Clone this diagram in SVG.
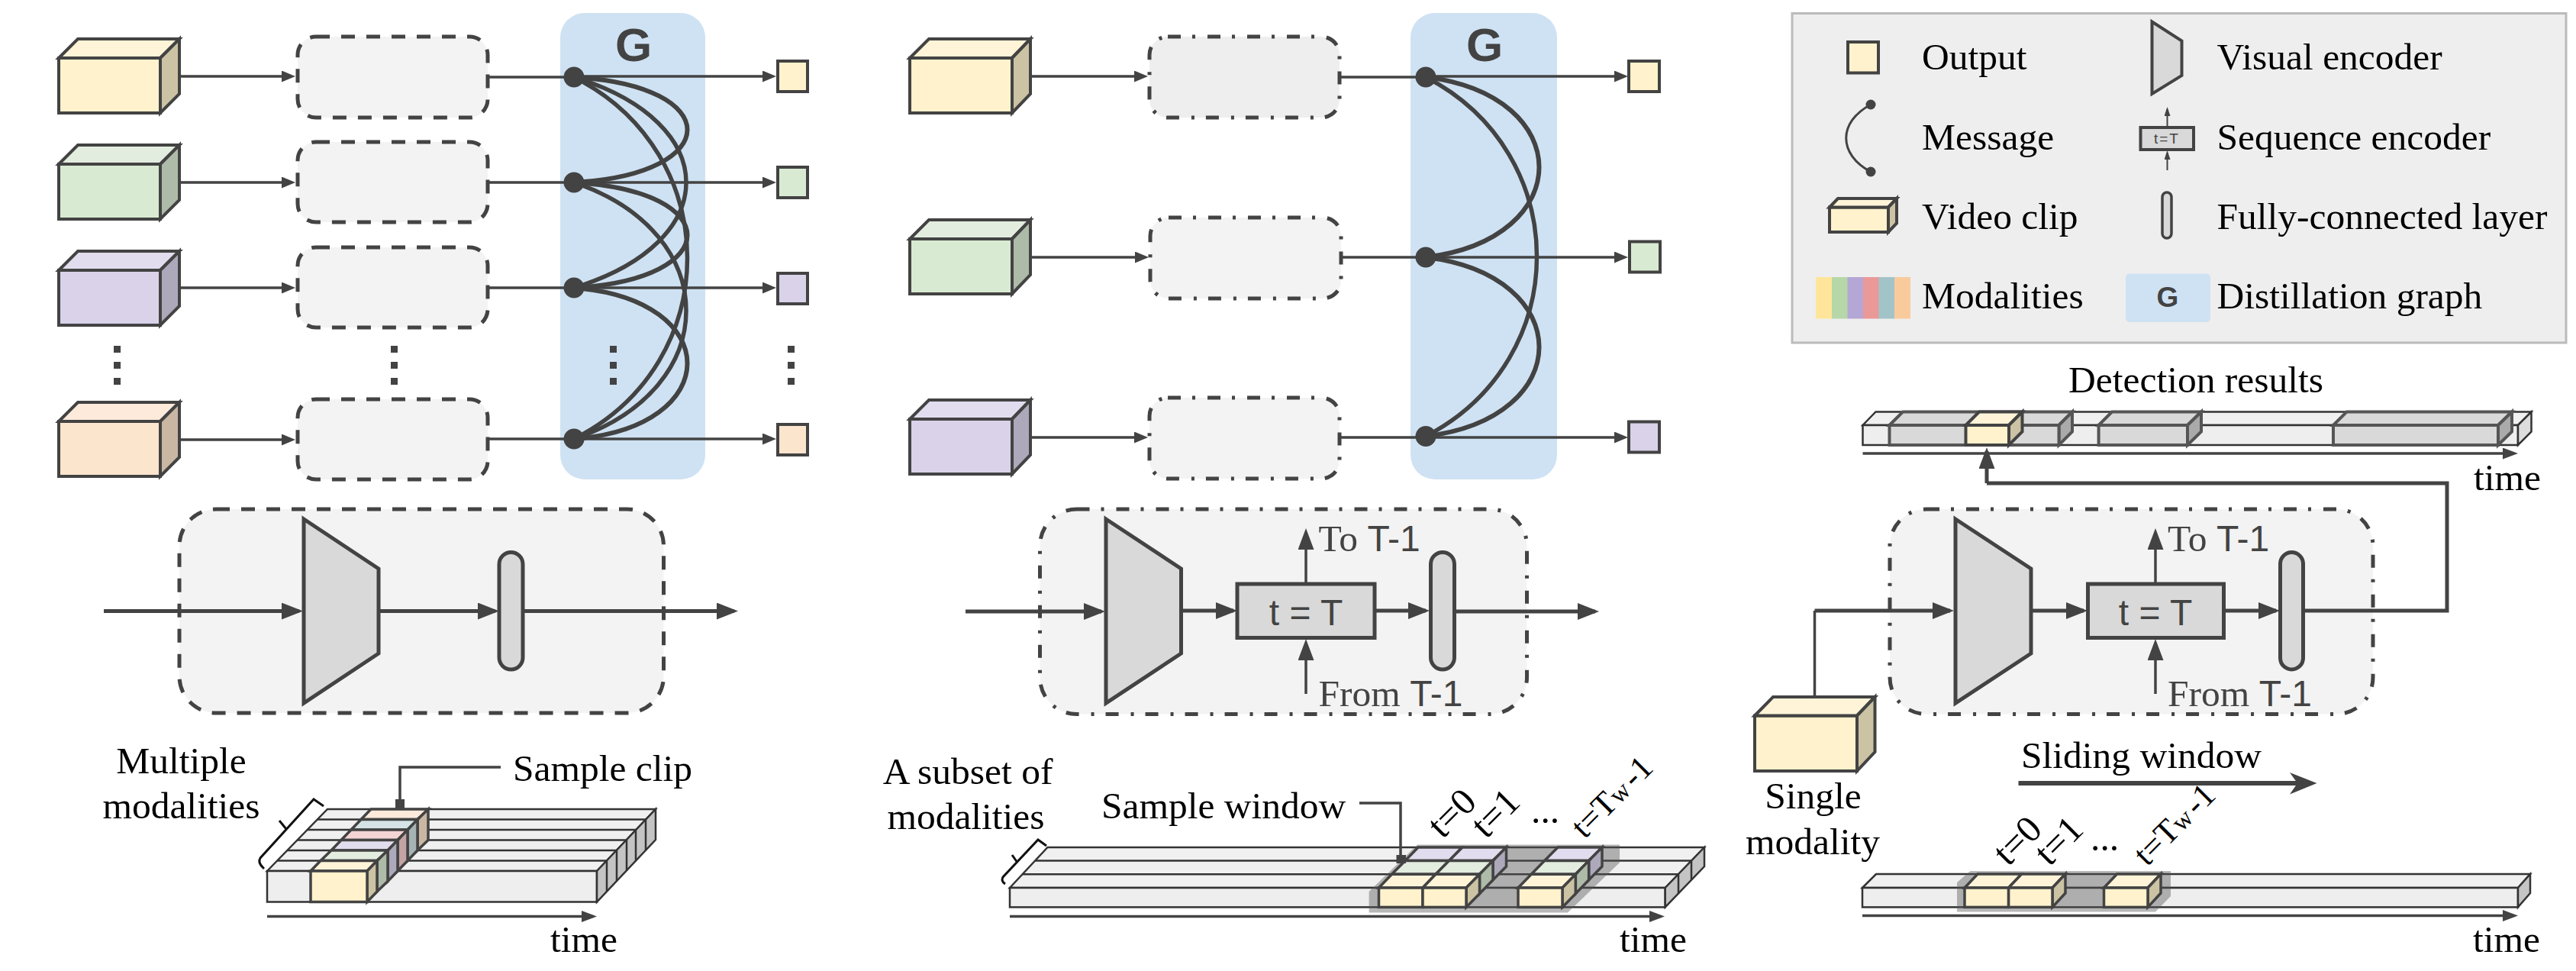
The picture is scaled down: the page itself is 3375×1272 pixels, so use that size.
<svg xmlns="http://www.w3.org/2000/svg" width="3375" height="1272" viewBox="0 0 3375 1272">
<style>
.lbl{font-family:"Liberation Serif","Times New Roman",serif;font-size:49.5px;fill:#000}
.in{font-family:"Liberation Serif","Times New Roman",serif;font-size:49.5px;fill:#434343}
.sa{font-family:"Liberation Sans",Arial,sans-serif}
.g{font-family:"Liberation Sans",Arial,sans-serif;font-weight:bold;fill:#434343}
.s{stroke:#434343;stroke-width:4;stroke-linejoin:miter}
.t{stroke:#333;stroke-width:2.5}
.dash{fill:#f3f3f3;stroke:#434343;stroke-width:5;stroke-dasharray:18 15}
.dd{fill:#f3f3f3;stroke:#434343;stroke-width:5;stroke-dasharray:17 15 4 16}
.c{fill:none;stroke:#434343;stroke-width:3.5}
.c5{fill:none;stroke:#434343;stroke-width:5}
.e{fill:none;stroke:#434343;stroke-width:6}
.e4{fill:none;stroke:#434343;stroke-width:5.5}
.node{fill:#434343}
.gb{fill:#cfe2f3}
.enc{fill:#d9d9d9;stroke:#434343;stroke-width:5}
.yf{fill:#fff2cc}.yt{fill:#fff4d8}.ys{fill:#cbc3a3}
.gf{fill:#d9ead3}.gt{fill:#e3eddf}.gs{fill:#adbba8}
.pf{fill:#d9d2e9}.pt{fill:#e2ddee}.ps{fill:#ada8ba}
.of{fill:#fce5cd}.ot{fill:#fdeadb}.os{fill:#c9b7a3}
.bt{fill:#d6e3e6}.bs{fill:#a6b3b5}
.rt{fill:#f4d4d4}.rs{fill:#c3a3a3}
.st{fill:#f0f0f0}.sf{fill:#eeeeee}.ss{fill:#c4c4c4}
.gc{fill:#d9d9d9;stroke:#555;stroke-width:4}
.gs2{fill:#aaaaaa;stroke:#555;stroke-width:4}
.win{fill:#555;opacity:.42}
.w{font-size:44px}
</style>
<defs>
<marker id="as" markerUnits="userSpaceOnUse" markerWidth="18" markerHeight="15" refX="13" refY="7.5" orient="auto"><polygon points="0,0 18,7.5 0,15" fill="#434343"/></marker>
<marker id="am" markerUnits="userSpaceOnUse" markerWidth="28" markerHeight="22" refX="23" refY="11" orient="auto"><polygon points="0,0 28,11 0,22" fill="#434343"/></marker>
<marker id="at" markerUnits="userSpaceOnUse" markerWidth="20" markerHeight="15" refX="15" refY="7.5" orient="auto"><polygon points="0,0 20,7.5 0,15" fill="#434343"/></marker>
<marker id="au" markerUnits="userSpaceOnUse" markerWidth="28" markerHeight="21" refX="23" refY="10.5" orient="auto"><polygon points="0,0 28,10.5 0,21" fill="#434343"/></marker>
<marker id="ax" markerUnits="userSpaceOnUse" markerWidth="12" markerHeight="8" refX="9" refY="4" orient="auto"><polygon points="0,0 12,4 0,8" fill="#434343"/></marker>
</defs>
<rect width="3375" height="1272" fill="#fff"/>

<g id="graph-1"><rect class="gb" x="734" y="17" width="190" height="611" rx="32"/><text class="g" x="830" y="80" font-size="62" text-anchor="middle">G</text></g>
<g id="graph-2"><rect class="gb" x="1848" y="17" width="192" height="611" rx="32"/><text class="g" x="1945" y="80" font-size="62" text-anchor="middle">G</text></g>

<g id="cube-1-1"><rect class="yf s" x="77" y="76" width="133" height="72"/><polygon class="yt s" points="77,76 102,51 235,51 210,76"/><polygon class="ys s" points="210,76 235,51 235,123 210,148"/></g>
<g id="cube-1-2"><rect class="gf s" x="77" y="215" width="133" height="72"/><polygon class="gt s" points="77,215 102,190 235,190 210,215"/><polygon class="gs s" points="210,215 235,190 235,262 210,287"/></g>
<g id="cube-1-3"><rect class="pf s" x="77" y="354" width="133" height="72"/><polygon class="pt s" points="77,354 102,329 235,329 210,354"/><polygon class="ps s" points="210,354 235,329 235,401 210,426"/></g>
<g id="cube-1-4"><rect class="of s" x="77" y="552" width="133" height="72"/><polygon class="ot s" points="77,552 102,527 235,527 210,552"/><polygon class="os s" points="210,552 235,527 235,599 210,624"/></g>

<g id="box-1-1"><rect class="dash" x="390" y="48" width="249" height="106" rx="24"/></g>
<g id="box-1-2"><rect class="dash" x="390" y="186" width="249" height="105" rx="24"/></g>
<g id="box-1-3"><rect class="dash" x="390" y="324" width="249" height="105" rx="24"/></g>
<g id="box-1-4"><rect class="dash" x="390" y="523" width="249" height="105" rx="24"/></g>

<g id="out-1-1"><rect class="yf s" x="1019" y="80" width="39" height="40"/></g>
<g id="out-1-2"><rect class="gf s" x="1019" y="219" width="39" height="40"/></g>
<g id="out-1-3"><rect class="pf s" x="1019" y="358" width="39" height="40"/></g>
<g id="out-1-4"><rect class="of s" x="1019" y="556" width="39" height="40"/></g>

<g id="ellipsis-1" fill="#434343">
<rect x="149" y="453" width="9" height="9"/><rect x="149" y="474" width="9" height="9"/><rect x="149" y="495" width="9" height="9"/>
<rect x="512" y="453" width="9" height="9"/><rect x="512" y="474" width="9" height="9"/><rect x="512" y="495" width="9" height="9"/>
<rect x="799" y="453" width="9" height="9"/><rect x="799" y="474" width="9" height="9"/><rect x="799" y="495" width="9" height="9"/>
<rect x="1032" y="453" width="9" height="9"/><rect x="1032" y="474" width="9" height="9"/><rect x="1032" y="495" width="9" height="9"/>
</g>

<g id="cube-2-1"><rect class="yf s" x="1192" y="76" width="134" height="72"/><polygon class="yt s" points="1192,76 1217,51 1350,51 1326,76"/><polygon class="ys s" points="1326,76 1350,51 1350,123 1326,148"/></g>
<g id="cube-2-2"><rect class="gf s" x="1192" y="313" width="134" height="72"/><polygon class="gt s" points="1192,313 1217,288 1350,288 1326,313"/><polygon class="gs s" points="1326,313 1350,288 1350,360 1326,385"/></g>
<g id="cube-2-3"><rect class="pf s" x="1192" y="549" width="134" height="72"/><polygon class="pt s" points="1192,549 1217,524 1350,524 1326,549"/><polygon class="ps s" points="1326,549 1350,524 1350,596 1326,621"/></g>

<g id="box-2-1"><rect class="dd" style="fill:#eeeeee" x="1506" y="48" width="249" height="106" rx="24"/></g>
<g id="box-2-2"><rect class="dd" x="1507" y="285" width="250" height="106" rx="24"/></g>
<g id="box-2-3"><rect class="dd" x="1506" y="521" width="249" height="106" rx="24"/></g>

<g id="out-2-1"><rect class="yf s" x="2134" y="80" width="40" height="40"/></g>
<g id="out-2-2"><rect class="gf s" x="2135" y="316.5" width="40" height="40"/></g>
<g id="out-2-3"><rect class="pf s" x="2134" y="552.5" width="40" height="40"/></g>

<g id="encoder-1">
<rect class="dash" x="235" y="667" width="634.5" height="267" rx="48"/>
<polygon class="enc" points="398,680 496,745 496,856 398,921"/>
<rect class="enc" x="654" y="723.5" width="31" height="153.5" rx="15.5"/>
</g>
<g id="encoder-2">
<rect class="dd" x="1362.5" y="667" width="638" height="268.5" rx="48"/>
<polygon class="enc" points="1449,680 1547.5,745 1547.5,856 1449,921"/>
<rect class="enc" x="1621" y="765" width="180" height="70.5"/>
<text class="g" style="font-weight:normal" x="1711" y="818.5" font-size="48" text-anchor="middle">t = T</text>
<rect class="enc" x="1874.5" y="723.5" width="31" height="153.5" rx="15.5"/>
<text class="in" x="1727.5" y="721.5">To <tspan class="sa" font-size="48">T-1</tspan></text>
<text class="in" x="1727.5" y="925">From <tspan class="sa" font-size="48">T-1</tspan></text>
</g>
<g id="encoder-3">
<rect class="dd" x="2476" y="667" width="633" height="268.5" rx="48"/>
<polygon class="enc" points="2562,680 2661,745 2661,856 2562,921"/>
<rect class="enc" x="2735.5" y="765" width="178" height="70.5"/>
<text class="g" style="font-weight:normal" x="2824" y="818.5" font-size="48" text-anchor="middle">t = T</text>
<rect class="enc" x="2987.5" y="723.5" width="30" height="153.5" rx="15"/>
<text class="in" x="2840" y="721.5">To <tspan class="sa" font-size="48">T-1</tspan></text>
<text class="in" x="2840" y="925">From <tspan class="sa" font-size="48">T-1</tspan></text>
</g>

<g id="timeline-1">
<polygon class="st t" points="350,1141 429,1060 859,1060 782,1141"/>
<path class="t" fill="none" d="M416,1073.5H846M403,1087H833M390,1100.5H820M376,1114H807M363,1127.5H794"/>
<rect class="sf t" x="350" y="1141" width="432" height="40.5"/>
<polygon class="ss t" points="782,1141 859,1060 859,1100 782,1181.5"/>
<path class="t" fill="none" d="M795,1127.5V1168M808,1114V1154.5M821,1100.5V1141M833,1087V1127.5M846,1073.5V1114"/>
<g class="s" style="stroke-width:3.5">
<polygon class="ot" points="473,1073.5 486,1060 561,1060 547,1073.5"/><polygon class="os" points="547,1073.5 561,1060 561,1100.5 547,1114"/>
<polygon class="bt" points="460,1087 473,1073.5 547,1073.5 534,1087"/><polygon class="bs" points="534,1087 547,1073.5 547,1114 534,1127.5"/>
<polygon class="rt" points="447,1100.5 460,1087 534,1087 521,1100.5"/><polygon class="rs" points="521,1100.5 534,1087 534,1127.5 521,1141"/>
<polygon class="pt" points="434,1114 447,1100.5 521,1100.5 508,1114"/><polygon class="ps" points="508,1114 521,1100.5 521,1141 508,1154.5"/>
<polygon class="gt" points="420,1127.5 434,1114 508,1114 494,1127.5"/><polygon class="gs" points="494,1127.5 508,1114 508,1154.5 494,1168"/>
<polygon class="yt" points="407,1141 420,1127.5 494,1127.5 481,1141"/><polygon class="ys" points="481,1141 494,1127.5 494,1168 481,1181.5"/>
<rect class="yf" x="407" y="1141" width="74" height="40.5"/>
</g>
<path fill="none" stroke="#111" stroke-width="3" d="M424,1056L411,1047L341,1124Q337,1130 346,1138M375,1086L366,1075"/>
<text class="lbl" x="237.5" y="1013" text-anchor="middle">Multiple</text>
<text class="lbl" x="237.5" y="1072" text-anchor="middle">modalities</text>
<text class="lbl" x="672" y="1023">Sample clip</text>
<text class="lbl" x="721" y="1247">time</text>
</g>

<g id="timeline-2">
<polygon class="st t" points="1323,1163 1372.5,1110 2233,1110 2181.7,1163"/>
<path class="t" fill="none" d="M1356,1127.6H2216M1339.5,1145.3H2199"/>
<rect class="sf t" x="1323" y="1163" width="858.7" height="25.4"/>
<polygon class="ss t" points="2181.7,1163 2233,1110 2233,1135 2181.7,1188.4"/>
<path class="t" fill="none" d="M2199,1145.3V1170.7M2216,1127.6V1152.7"/>
<polygon class="win" points="1793.6,1195.6 2054,1195.6 2122,1130 2122,1106.5 1857,1106.5 1793.6,1168"/>
<g class="s" style="stroke-width:3.5">
<polygon class="pt" points="1841,1127.6 1858,1110 1915.5,1110 1898.5,1127.6"/>
<polygon class="pt" points="1898.5,1127.6 1916,1110 1973.5,1110 1956,1127.6"/><polygon class="ps" points="1956,1127.6 1973.5,1110 1973.5,1135 1956,1152.7"/>
<polygon class="gt" points="1823.5,1145.3 1841,1127.6 1898.5,1127.6 1881,1145.3"/>
<polygon class="gt" points="1881,1145.3 1898.5,1127.6 1956,1127.6 1938.5,1145.3"/><polygon class="gs" points="1938.5,1145.3 1956,1127.6 1956,1152.7 1938.5,1170.7"/>
<polygon class="yt" points="1806.5,1163 1823.5,1145.3 1881,1145.3 1864,1163"/>
<polygon class="yt" points="1864,1163 1881,1145.3 1938.5,1145.3 1921,1163"/><polygon class="ys" points="1921,1163 1938.5,1145.3 1938.5,1170.7 1921,1188.4"/>
<rect class="yf" x="1806.5" y="1163" width="57.5" height="25.4"/><rect class="yf" x="1864" y="1163" width="57" height="25.4"/>
<polygon class="pt" points="2023.6,1127.6 2041,1110 2099,1110 2081.6,1127.6"/><polygon class="ps" points="2081.6,1127.6 2099,1110 2099,1135 2081.6,1152.7"/>
<polygon class="gt" points="2006.3,1145.3 2023.6,1127.6 2081.6,1127.6 2064.3,1145.3"/><polygon class="gs" points="2064.3,1145.3 2081.6,1127.6 2081.6,1152.7 2064.3,1170.7"/>
<polygon class="yt" points="1989,1163 2006.3,1145.3 2064.3,1145.3 2047,1163"/><polygon class="ys" points="2047,1163 2064.3,1145.3 2064.3,1170.7 2047,1188.4"/>
<rect class="yf" x="1989" y="1163" width="58" height="25.4"/>
</g>
<path fill="none" stroke="#111" stroke-width="3" d="M1371,1108L1360,1100L1314,1149Q1311,1154 1317,1158M1333,1130L1326,1120"/>
<text class="lbl" x="1268" y="1027" text-anchor="middle">A subset of</text>
<text class="lbl" x="1265.5" y="1085.5" text-anchor="middle">modalities</text>
<text class="lbl" x="1443" y="1071.5">Sample window</text>
<text class="lbl" x="2122" y="1247">time</text>
<text class="lbl" transform="translate(1890,1100) rotate(-45)">t=0</text>
<text class="lbl" transform="translate(1947,1100) rotate(-45)">t=1</text>
<text class="lbl" x="2006" y="1077.5">...</text>
<text class="lbl w" transform="translate(2076,1100) rotate(-45)">t=T<tspan font-size="34">w</tspan><tspan dx="5">-1</tspan></text>
</g>

<g id="timeline-3">
<polygon class="st t" points="2440,1163 2458,1145 3315,1145 3299,1163"/>
<rect class="sf t" x="2440" y="1163" width="859" height="25.4"/>
<polygon class="ss t" points="3299,1163 3315,1145 3315,1170 3299,1188.4"/>
<polygon class="win" points="2564,1194.4 2824,1194.4 2844,1174 2844,1141 2581.4,1141 2564,1156"/>
<g class="s" style="stroke-width:3.5">
<polygon class="yt" points="2574,1163 2591,1145 2648.6,1145 2631.6,1163"/>
<polygon class="yt" points="2631.6,1163 2648.6,1145 2706,1145 2689,1163"/><polygon class="ys" points="2689,1163 2706,1145 2706,1170 2689,1188.4"/>
<rect class="yf" x="2574" y="1163" width="57.6" height="25.4"/><rect class="yf" x="2631.6" y="1163" width="57.4" height="25.4"/>
<polygon class="yt" points="2756.5,1163 2773.5,1145 2831,1145 2814,1163"/><polygon class="ys" points="2814,1163 2831,1145 2831,1170 2814,1188.4"/>
<rect class="yf" x="2756.5" y="1163" width="57.5" height="25.4"/>
</g>
<text class="lbl" x="3240" y="1247">time</text>
<text class="lbl" transform="translate(2631,1136) rotate(-45)">t=0</text>
<text class="lbl" transform="translate(2685,1136) rotate(-45)">t=1</text>
<text class="lbl" x="2739" y="1114">...</text>
<text class="lbl w" transform="translate(2813,1136) rotate(-45)">t=T<tspan font-size="34">w</tspan><tspan dx="5">-1</tspan></text>
<text class="lbl" x="2648" y="1006">Sliding window</text>
</g>

<g id="cube-3"><rect class="yf s" x="2299" y="937.5" width="134" height="72.5"/><polygon class="yt s" points="2299,937.5 2323,913 2456.5,913 2433,937.5"/><polygon class="ys s" points="2433,937.5 2456.5,913 2456.5,985 2433,1010"/>
<text class="lbl" x="2375.5" y="1059" text-anchor="middle">Single</text>
<text class="lbl" x="2375" y="1118.5" text-anchor="middle">modality</text>
</g>

<g id="detection">
<polygon class="st t" points="2440.5,557 2457.5,539.5 3316.5,539.5 3299,557"/>
<rect class="sf t" x="2440.5" y="557" width="858.5" height="26"/>
<polygon class="ss t" points="3299,557 3316.5,539.5 3316.5,565.5 3299,583" style="fill:#ddd"/>
<polygon class="gc" points="2475.5,557 2493,539.5 2715,539.5 2697.5,557"/><polygon class="gs2" points="2697.5,557 2715,539.5 2715,565.5 2697.5,583"/><rect class="gc" x="2475.5" y="557" width="222" height="26"/>
<polygon class="gc" points="2749.6,557 2767,539.5 2884,539.5 2866,557"/><polygon class="gs2" points="2866,557 2884,539.5 2884,565.5 2866,583"/><rect class="gc" x="2749.6" y="557" width="116.4" height="26"/>
<polygon class="gc" points="3057,557 3074.5,539.5 3291,539.5 3273,557"/><polygon class="gs2" points="3273,557 3291,539.5 3291,565.5 3273,583"/><rect class="gc" x="3057" y="557" width="216" height="26"/>
<g class="s"><polygon class="yt" points="2575.5,557 2593,539.5 2649.5,539.5 2632,557"/><polygon class="ys" points="2632,557 2649.5,539.5 2649.5,565.5 2632,583"/><rect class="yf" x="2575.5" y="557" width="56.5" height="26"/></g>
<text class="lbl" x="2710" y="514">Detection results</text>
<text class="lbl" x="3241" y="642">time</text>
</g>

<g id="legend">
<rect x="2348" y="17.5" width="1014" height="431.5" fill="#eeeeee" stroke="#bbbbbb" stroke-width="3"/>
<rect class="yf s" x="2421" y="55" width="40" height="40.5"/>
<text class="lbl" x="2518" y="90.5">Output</text>
<polygon class="enc" style="stroke-width:4" points="2819.5,28.5 2858.5,53.5 2858.5,99 2819.5,123"/>
<text class="lbl" x="2904.5" y="90.5">Visual encoder</text>
<path fill="none" stroke="#434343" stroke-width="3" d="M2451,137C2408,160 2408,202 2451,225"/>
<circle class="node" cx="2451" cy="137" r="6.5"/><circle class="node" cx="2451" cy="225" r="6.5"/>
<text class="lbl" x="2518" y="196">Message</text>
<rect class="enc" style="stroke-width:4" x="2804.5" y="167" width="69.5" height="29"/>
<text class="g" style="font-weight:normal;letter-spacing:2px" x="2839" y="188" font-size="19" text-anchor="middle">t=T</text>
<path fill="none" stroke="#434343" stroke-width="2" d="M2839.5,167V143" marker-end="url(#ax)"/>
<path fill="none" stroke="#434343" stroke-width="2" d="M2839.5,223V200" marker-end="url(#ax)"/>
<text class="lbl" x="2904.5" y="196">Sequence encoder</text>
<rect class="yf s" x="2397" y="271.5" width="77" height="32.5"/><polygon class="yt s" points="2397,271.5 2408,260 2485,260 2474,271.5"/><polygon class="ys s" points="2474,271.5 2485,260 2485,292.5 2474,304"/>
<text class="lbl" x="2518" y="299.5">Video clip</text>
<rect class="enc" style="stroke-width:3.5" x="2833" y="252" width="12" height="60" rx="6"/>
<text class="lbl" x="2904.5" y="299.5">Fully-connected layer</text>
<g id="legend-colors">
<rect x="2379" y="363" width="21" height="54.5" fill="#ffe599"/><rect x="2400" y="363" width="21" height="54.5" fill="#b6d7a8"/><rect x="2420.5" y="363" width="21" height="54.5" fill="#b4a7d6"/><rect x="2441" y="363" width="21" height="54.5" fill="#ea9999"/><rect x="2461.5" y="363" width="21" height="54.5" fill="#a2c4c9"/><rect x="2482" y="363" width="21" height="54.5" fill="#f9cb9c"/>
</g>
<text class="lbl" x="2518" y="404">Modalities</text>
<rect class="gb" x="2785" y="358.5" width="111" height="63.5" rx="5"/>
<text class="g" x="2840" y="402" font-size="37" text-anchor="middle">G</text>
<text class="lbl" x="2904.5" y="404">Distillation graph</text>
</g>

<g id="connectors">
<path class="c" marker-end="url(#as)" d="M235,100H382"/>
<path class="c" marker-end="url(#as)" d="M235,239H382"/>
<path class="c" marker-end="url(#as)" d="M235,377H382"/>
<path class="c" marker-end="url(#as)" d="M235,576H382"/>
<path class="c" d="M639,101H752M639,239H752M639,377H752M639,575H752"/>
<path class="c" marker-end="url(#as)" d="M752,100H1012"/>
<path class="c" marker-end="url(#as)" d="M752,239H1012"/>
<path class="c" marker-end="url(#as)" d="M752,377H1012"/>
<path class="c" marker-end="url(#as)" d="M752,575H1012"/>
<path class="e" d="M752,101C950,112 950,228 752,239"/>
<path class="e" d="M752,239C950,250 950,366 752,377"/>
<path class="e" d="M752,377C950,392 950,560 752,575"/>
<path class="e4" d="M752,101C948,161 948,317 752,377"/>
<path class="e4" d="M752,239C948,305 948,509 752,575"/>
<path class="e4" d="M752,101C950,201 950,475 752,575"/>
<circle class="node" cx="752" cy="101" r="13.5"/><circle class="node" cx="752" cy="239" r="13.5"/><circle class="node" cx="752" cy="377" r="13.5"/><circle class="node" cx="752" cy="575" r="13.5"/>

<path class="c" marker-end="url(#as)" d="M1350,100H1499"/>
<path class="c" marker-end="url(#as)" d="M1350,337H1500"/>
<path class="c" marker-end="url(#as)" d="M1350,573H1499"/>
<path class="c" d="M1755,101H1868M1757,337H1868M1755,573H1868"/>
<path class="c" marker-end="url(#as)" d="M1868,100H2128"/>
<path class="c" marker-end="url(#as)" d="M1868,337H2128"/>
<path class="c" marker-end="url(#as)" d="M1868,573H2128"/>
<path class="e" d="M1868,101C2066,125 2066,313 1868,337"/>
<path class="e" d="M1868,337C2066,361 2066,548 1868,571.5"/>
<path class="e4" d="M1868,101C2062,201 2062,471 1868,571.5"/>
<circle class="node" cx="1868" cy="101" r="13.5"/><circle class="node" cx="1868" cy="337" r="13.5"/><circle class="node" cx="1868" cy="571.5" r="13.5"/>

<path class="c5" marker-end="url(#am)" d="M136,800.5H392"/>
<path class="c5" marker-end="url(#am)" d="M496,800.5H649"/>
<path class="c5" marker-end="url(#am)" d="M685,800.5H962"/>

<path class="c5" marker-end="url(#am)" d="M1265,801H1443"/>
<path class="c5" marker-end="url(#am)" d="M1547.5,800H1616"/>
<path class="c" marker-end="url(#au)" d="M1711,765V697"/>
<path class="c" marker-end="url(#au)" d="M1711,909V842"/>
<path class="c5" marker-end="url(#am)" d="M1801,800H1868"/>
<path class="c5" marker-end="url(#am)" d="M1905,801H2090"/>

<path class="c" d="M2377.5,913V800"/>
<path class="c5" marker-end="url(#am)" d="M2377.5,800H2555"/>
<path class="c5" marker-end="url(#am)" d="M2661,800H2730"/>
<path class="c" marker-end="url(#au)" d="M2824,765V697"/>
<path class="c" marker-end="url(#au)" d="M2824,909V842"/>
<path class="c5" marker-end="url(#am)" d="M2913.5,800H2982"/>
<path class="c5" d="M3017.5,800H3206V633H2603"/>
<path class="c5" marker-end="url(#au)" d="M2603,633V591"/>

<path class="c" marker-end="url(#at)" d="M350,1200.5H777"/>
<path class="c" marker-end="url(#at)" d="M1323,1200.5H2176"/>
<path class="c" marker-end="url(#at)" d="M2440,1199.5H3294"/>
<path class="c" marker-end="url(#at)" d="M2440.5,594H3294"/>

<path class="c" d="M656,1005H524V1050"/>
<rect x="518" y="1047" width="12" height="13" fill="#434343"/>
<path class="c" d="M1781,1052H1835V1122"/>
<rect x="1829.5" y="1120" width="12.5" height="11" fill="#434343"/>

<path fill="none" stroke="#434343" stroke-width="6" d="M2644.5,1026H3020"/>
<polygon fill="#434343" points="3000,1012 3035.5,1026 3000,1040.5 3010,1026"/>
</g>
</svg>
